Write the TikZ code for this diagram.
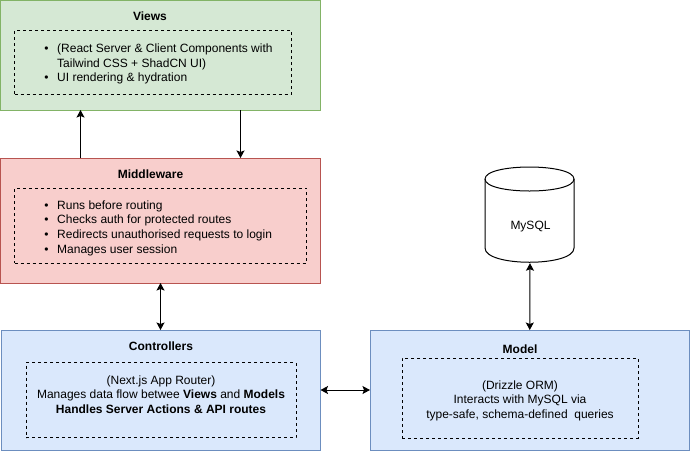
\documentclass[tikz,border=0pt]{standalone}
\usepackage{fontspec}
\setmainfont{Liberation Sans}
\usetikzlibrary{arrows.meta}
\definecolor{gfill}{HTML}{D5E8D4}\definecolor{gline}{HTML}{82B366}
\definecolor{rfill}{HTML}{F8CECC}\definecolor{rline}{HTML}{B85450}
\definecolor{bfill}{HTML}{DAE8FC}\definecolor{bline}{HTML}{6C8EBF}
\newcommand{\bul}{\llap{\textbullet\hspace{8.5pt}}}
\tikzset{
  x=1pt,y=-1pt,
  box/.style={rectangle,draw,line width=1pt,inner sep=0pt,outer sep=0pt},
  dashbox/.style={rectangle,draw=black,line width=1pt,dash pattern=on 3pt off 3pt,inner sep=0pt,outer sep=0pt},
  title/.style={inner sep=0pt,font=\fontsize{12}{14.5}\selectfont\bfseries},
  body/.style={inner sep=0pt,font=\fontsize{12}{14.6}\selectfont},
  link/.style={draw=black,line width=1pt,-{Stealth[length=7.5pt,width=8pt,inset=1.5pt]}},
  dlink/.style={draw=black,line width=1pt,{Stealth[length=7.5pt,width=8pt,inset=1.5pt]}-{Stealth[length=7.5pt,width=8pt,inset=1.5pt]}}
}
\begin{document}
\begin{tikzpicture}
\useasboundingbox (0,0) rectangle (690,451);
\fill[white] (0,0) rectangle (690,451);
% main boxes
\node[box,draw=gline,fill=gfill,minimum width=320pt,minimum height=109.5pt] (views) at (160.5,55.25) {};
\node[box,draw=rline,fill=rfill,minimum width=320pt,minimum height=125pt] (mw) at (160.5,220.5) {};
\node[box,draw=bline,fill=bfill,minimum width=319.5pt,minimum height=120pt] (ctrl) at (160.75,390) {};
\node[box,draw=bline,fill=bfill,minimum width=319.5pt,minimum height=120pt] (model) at (529.75,390) {};
% dashed inner boxes
\node[dashbox,minimum width=277pt,minimum height=63.5pt] (viewsd) at (153,62.25) {};
\node[dashbox,minimum width=292pt,minimum height=75pt] (mwd) at (160.5,225.5) {};
\node[dashbox,minimum width=270pt,minimum height=75pt] (ctrld) at (161,400) {};
\node[dashbox,minimum width=236pt,minimum height=80pt] (modeld) at (520,398) {};
% titles
\node[title] (viewst) at (150,16) {Views};
\node[title] (mwt) at (150.5,174) {Middleware};
\node[title] (ctrlt) at (161,346) {Controllers};
\node[title] (modelt) at (520,349) {Model};
% bodies
\node[body,anchor=west,align=left] (viewsb) at (57,64) {\bul(React Server \& Client Components with\\Tailwind CSS + ShadCN UI)\\\bul UI rendering \& hydration};
\node[body,anchor=west,align=left] (mwb) at (57,228) {\bul Runs before routing\\\bul Checks auth for protected routes\\\bul Redirects unauthorised requests to login\\\bul Manages user session};
\node[body,align=center] (ctrlb) at (161,394.5) {(Next.js App Router)\\Manages data flow betwee \textbf{Views} and \textbf{Models}\\\textbf{Handles Server Actions \& API routes}};
\node[body,align=center] (modelb) at (520,400.5) {(Drizzle ORM)\\Interacts with MySQL via\\type-safe, schema-defined\ \ queries};
% database
\draw[line width=1pt,fill=white] (485,179) .. controls (485,163) and (574,163) .. (574,179) -- (574,248) .. controls (574,267) and (485,267) .. (485,248) -- cycle;
\draw[line width=1pt] (485,179) .. controls (485,195) and (574,195) .. (574,179);
\node[inner sep=0pt,minimum width=89pt,minimum height=96pt] (db) at (529.5,215) {};
\node[body] (dbt) at (530.5,227) {MySQL};
% connectors
\path[link] ([xshift=-80pt]mw.north) -- ([xshift=-80pt]views.south);
\path[link] ([xshift=80pt]views.south) -- ([xshift=80pt]mw.north);
\path[dlink] (mw.south) -- (ctrl.north -| mw.south);
\path[dlink] (ctrl.east) -- (model.west);
\path[dlink] ([xshift=.5pt]db.south) -- (model.north);
\end{tikzpicture}
\end{document}
